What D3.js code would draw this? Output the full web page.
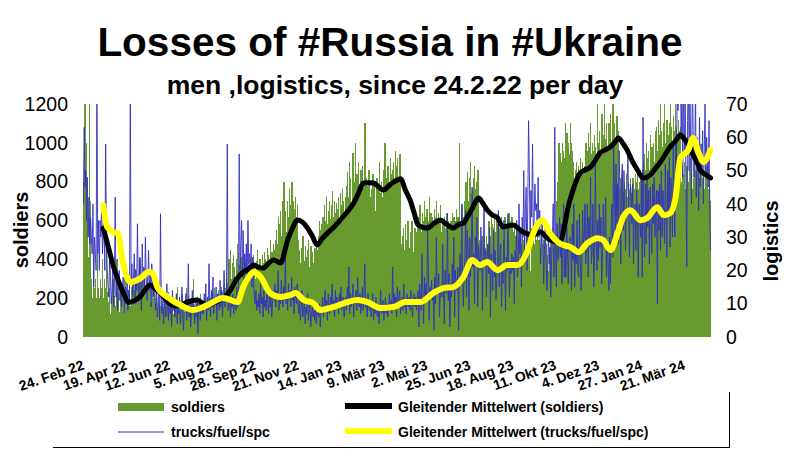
<!DOCTYPE html>
<html><head><meta charset="utf-8">
<script src="https://cdn.jsdelivr.net/npm/d3@7"></script>
<style>
body{margin:0;background:#fff}
svg{display:block}
text{font-family:"Liberation Sans",Arial,sans-serif;fill:#000}
</style>
</head><body>
<svg id="chart" width="790" height="471"></svg>
<script>
// ---------- DATA ----------
const titleText = "Losses of #Russia in #Ukraine";
const subtitleText = "men ,logistics, since 24.2.22 per day";
const leftAxisTitle = "soldiers";
const rightAxisTitle = "logistics";
const seriesNames = ["soldiers","trucks/fuel/spc","Gleitender Mittelwert (soldiers)","Gleitender Mittelwert (trucks/fuel/spc)"];

// x tick labels, one every 54 days from 24 Feb 2022
const xTickLabels = ["24. Feb 22","19. Apr 22","12. Jun 22","5. Aug 22","28. Sep 22","21. Nov 22","14. Jan 23","9. Mär 23","2. Mai 23","25. Jun 23","18. Aug 23","11. Okt 23","4. Dez 23","27. Jan 24","21. Mär 24"];
const xTickStepDays = 54;
const leftTicks = [0,200,400,600,800,1000,1200];
const rightTicks = [0,10,20,30,40,50,60,70];

// daily soldiers (day 0 = 24 Feb 2022)
const soldiers = [
800,2000,1500,700,1000,800,410,3290,500,700,
300,200,400,250,150,300,200,450,200,250,
200,300,150,250,400,200,300,250,200,500,
230,150,180,250,120,200,170,300,140,210,
160,190,400,150,220,130,180,240,160,200,
120,170,350,140,190,210,150,180,230,160,
200,260,180,300,240,350,210,280,190,320,
250,400,220,280,300,180,260,350,230,270,
310,200,240,290,180,260,220,300,200,240,
170,150,200,130,180,120,160,140,210,110,
150,130,170,190,120,160,140,230,150,170,
130,180,150,120,200,160,140,170,260,150,
160,200,140,180,220,150,170,130,190,250,
170,140,210,160,180,200,130,170,300,160,
150,190,170,140,200,180,160,220,150,170,
150,180,140,200,160,170,190,150,210,180,
200,160,230,190,170,250,180,200,220,190,
240,210,180,260,200,230,190,280,210,250,
300,280,350,400,320,450,300,380,340,420,
360,300,400,350,480,330,370,300,410,350,
380,320,430,360,300,400,350,390,330,370,
400,350,380,320,420,360,300,390,340,450,
370,330,400,360,310,420,380,350,440,400,
390,460,350,420,380,500,410,440,370,480,
450,500,420,550,480,620,500,580,650,520,
700,560,800,600,650,540,700,620,580,760,
680,600,800,640,700,560,660,720,620,680,
500,450,420,380,460,400,520,440,390,470,
410,380,450,500,360,430,470,400,440,380,
420,460,400,500,450,520,480,600,550,580,
560,620,500,680,600,540,720,580,650,700,
610,560,680,750,620,580,700,640,690,600,
660,720,580,740,680,620,760,700,650,720,
700,780,850,720,900,760,820,680,880,950,
740,800,1000,760,840,700,900,780,820,860,
720,880,800,760,1100,740,820,780,700,860,
800,720,760,680,840,700,780,650,740,820,
700,760,900,680,740,800,720,860,780,1000,
760,820,740,880,800,760,920,840,780,860,
900,820,960,840,880,920,800,860,940,880,
480,520,560,450,420,580,500,440,600,520,
460,540,480,600,500,440,520,560,480,540,
560,620,500,680,580,540,640,600,520,700,
620,580,660,540,600,720,560,640,580,620,
600,660,540,620,700,580,640,600,560,680,
540,600,520,580,620,500,560,640,540,600,
580,520,600,560,640,580,620,540,600,660,
560,620,580,1000,600,640,560,680,620,700,
720,800,760,850,700,820,780,900,740,760,
820,700,880,760,800,740,860,720,500,460,
420,520,440,480,500,460,420,520,480,540,
600,560,520,640,580,500,560,620,540,600,
520,580,640,560,600,540,620,580,500,560,
620,540,580,600,520,640,560,600,580,620,
540,500,580,460,520,480,560,500,440,540,
520,480,560,420,500,540,460,580,500,520,
480,540,340,500,560,460,520,480,540,500,
480,520,440,500,460,420,520,480,440,500,
460,520,480,420,300,340,460,500,440,520,
480,460,500,440,480,700,800,900,1000,880,
950,900,1000,880,960,920,1100,980,1050,900,
1000,940,1100,880,1000,960,900,820,780,860,
900,800,760,880,840,920,860,780,900,840,
880,940,1000,900,960,1050,920,980,1100,940,
1000,880,960,1040,980,920,1250,1000,960,1060,
940,1000,1150,980,1040,1300,960,1020,1100,980,
1040,1100,1000,1150,980,1060,1250,1020,1100,1000,
1080,1140,1000,1060,760,820,700,780,860,740,
800,680,760,840,720,800,760,680,820,740,
780,820,700,760,840,800,720,880,760,800,
740,820,780,860,760,900,940,860,1000,880,
920,960,860,1040,900,980,940,1000,900,1060,
1000,1080,960,1120,1040,1000,1250,1060,980,1100,
1040,1200,1000,1080,1120,1040,960,1100,1260,1020,
1080,1000,1140,1060,1000,1300,1080,1040,1120,1060,
1000,1080,800,860,780,840,900,760,820,880,
740,800,860,920,780,840,760,820,900,780,
860,800,740,880,820,760,900,840,780,820,
860,760,800,880,820,900,760,840,700,700
];

// daily trucks / fuel tanks / special equipment
const trucks = [
40,63,45,50,35,48,30,42,28,36,
30,25,40,15,30,25,20,95,25,35,
20,35,30,40,25,30,35,20,58,30,
20,15,12,25,18,10,14,22,9,16,
42,12,18,8,14,20,11,16,9,13,
18,7,12,15,10,19,8,14,11,75,
16,22,12,18,25,10,20,14,34,17,
12,24,19,8,28,15,21,13,30,18,
11,16,26,14,20,9,22,17,12,19,
12,8,15,6,10,14,5,37,9,7,
11,4,13,8,6,16,9,5,12,7,
10,3,14,8,11,6,9,13,4,10,
7,12,4,9,15,6,2,10,8,13,
5,9,22,6,11,3,8,14,7,10,
4,9,6,12,1,8,11,5,9,7,
10,7,13,9,16,5,12,8,22,11,
6,14,9,18,7,12,10,15,5,13,
11,8,17,9,14,6,12,20,9,11,
12,58,8,10,14,6,11,9,13,7,
10,12,8,15,9,11,55,20,28,35,
18,32,15,25,20,28,16,35,22,25,
20,28,15,24,18,12,10,14,8,11,
9,13,7,16,10,12,6,14,9,11,
8,15,10,7,13,9,12,6,11,14,
11,16,9,14,12,20,8,13,10,17,
12,9,15,11,24,10,13,8,16,12,
14,9,18,11,13,7,15,12,10,16,
10,7,12,5,9,14,6,8,11,4,
9,7,13,5,8,10,3,7,9,6,
8,5,11,4,7,9,6,10,3,8,
9,12,6,10,14,8,11,5,13,9,
7,12,10,16,8,11,6,14,9,12,
10,7,13,9,15,8,11,12,6,10,
12,8,15,10,21,7,13,9,11,16,
6,12,10,14,8,18,11,9,13,7,
10,15,8,12,22,9,11,6,13,10,
8,11,6,9,13,5,10,7,12,8,
6,10,4,9,14,7,8,11,5,9,
12,7,10,6,9,13,8,11,7,21,
10,13,8,12,6,15,9,11,14,7,
10,12,8,16,9,11,7,13,10,9,
12,8,14,10,6,11,13,9,12,8,
11,14,3,16,12,8,25,13,4,18,
12,16,11,34,20,5,15,13,17,11,
14,2,18,10,30,13,15,19,6,14,
15,12,28,14,4,20,16,13,37,11,
19,3,16,12,22,15,30,6,20,16,
14,21,2,19,25,16,40,18,9,20,
24,38,12,32,26,8,30,18,25,45,
21,25,10,30,22,36,9,28,24,20,
33,27,8,25,40,21,26,12,24,28,
19,33,6,25,20,14,32,18,26,11,
17,24,38,15,23,28,9,22,16,35,
21,8,24,20,37,22,12,23,19,25,
20,24,10,26,22,35,18,23,40,25,
32,15,36,30,50,24,38,45,20,40,
65,50,28,44,36,58,30,35,46,38,
40,30,48,30,38,22,28,35,30,16,
26,34,24,14,18,32,22,27,12,24,
30,40,18,63,25,15,34,23,26,36,
24,34,16,28,40,18,26,18,36,25,
16,28,30,30,14,34,23,40,15,26,
22,35,20,18,37,24,14,21,38,27,
30,40,22,28,40,18,36,27,48,22,
26,40,15,24,52,30,20,35,23,40,
27,36,16,25,40,28,30,42,18,29,
22,14,30,16,35,40,24,58,44,32,
52,34,46,28,56,42,22,48,52,32,
50,38,26,41,45,56,35,24,46,44,
34,46,22,36,40,26,44,38,18,40,
36,30,48,18,66,35,24,46,28,48,
33,44,22,45,36,25,46,34,48,30,
40,44,10,44,32,46,26,50,30,44,
40,28,52,38,24,50,36,54,27,48,
44,30,58,42,30,60,52,75,68,90,
85,100,60,75,48,80,55,70,45,21,
65,90,50,72,58,40,85,62,48,55,
75,42,60,52,38,66,45,58,50,62,
40,55,70,48,60,52,45,65,36,26
];

// moving averages: [day, value]
const soldiersMA = [
[25,561],[31,470],[38,360],[44,290],[50,230],[57,178],[63,185],[72,210],[78,245],[84,268],[90,250],[97,227],[103,195],[109,170],[116,160],[122,165],[131,180],[143,190],[150,175],[156,165],[164,175],[172,190],[179,210],[185,242],[193,300],[201,335],[208,350],[214,371],[220,360],[226,355],[233,380],[239,397],[248,381],[257,500],[263,560],[269,602],[276,590],[282,561],[288,520],[294,474],[300,505],[307,535],[315,565],[323,602],[331,640],[340,690],[346,740],[352,793],[358,795],[365,793],[371,775],[377,757],[386,785],[395,808],[399,815],[405,757],[411,705],[416,640],[421,577],[427,565],[433,561],[441,585],[449,602],[457,580],[465,561],[472,580],[478,587],[484,625],[490,670],[497,716],[503,685],[508,654],[514,630],[521,613],[528,566],[534,572],[541,577],[547,560],[553,541],[560,530],[566,525],[575,541],[581,520],[587,500],[594,490],[600,495],[606,587],[609,654],[616,757],[625,845],[631,860],[638,876],[644,910],[650,948],[657,965],[663,979],[668,1000],[673,1025],[679,995],[684,963],[690,910],[697,860],[704,819],[713,834],[720,870],[726,901],[732,940],[738,979],[745,1010],[751,1040],[756,1020],[760,999],[767,937],[773,890],[776,860],[783,835],[789,819]
];
const trucksMA = [
[25,39.6],[30,33],[38,31.5],[43,31.2],[50,22.2],[59,16.5],[72,17.7],[82,19.5],[87,19.2],[93,15.0],[106,12.0],[122,9.6],[138,8.1],[156,9.6],[176,11.7],[194,10.5],[201,15.0],[208,18.0],[214,19.5],[223,18.0],[235,13.2],[248,12.0],[260,12.6],[267,13.2],[277,11.1],[289,10.2],[298,8.1],[314,9.0],[332,10.5],[345,11.1],[357,10.5],[374,8.7],[390,9.0],[405,10.5],[424,10.5],[440,13.2],[453,14.7],[465,15.0],[478,18.0],[489,23.1],[499,21.6],[508,22.5],[521,20.1],[533,21.6],[546,21.6],[558,25.5],[566,31.2],[577,35.1],[587,31.2],[600,28.0],[613,27.0],[623,25.5],[634,28.2],[647,29.7],[654,29.1],[663,26.1],[672,31.2],[679,36.0],[688,38.1],[701,35.1],[709,35.7],[722,39.0],[730,36.6],[738,37.2],[745,42.0],[751,53.8],[761,56.2],[767,59.8],[774,55.3],[780,52.6],[789,56.2]
];

// ---------- DRAWING ----------
const svg = d3.select("#chart");
const W = 790, H = 471;
const plot = {left: 83, right: 711, top: 104, bottom: 337};
const COL = {green: "#679a2f", blue: "#3030c0", black: "#000", yellow: "#ffff00"};

const nDays = soldiers.length;
const x = d3.scaleLinear().domain([0, nDays]).range([plot.left, plot.right]);
const yL = d3.scaleLinear().domain([0, 1200]).range([plot.bottom, plot.top]);
const yR = d3.scaleLinear().domain([0, 70]).range([plot.bottom, plot.top]);

svg.append("rect").attr("width", W).attr("height", H).attr("fill", "#fff");

svg.append("defs").append("clipPath").attr("id", "clip")
  .append("rect").attr("x", plot.left).attr("y", plot.top)
  .attr("width", plot.right - plot.left + 2).attr("height", plot.bottom - plot.top);

const g = svg.append("g").attr("clip-path", "url(#clip)");

// soldier bars (pixel-snapped, slightly overlapping so that no seams appear)
g.append("g").attr("shape-rendering", "crispEdges").selectAll("rect").data(soldiers).join("rect")
  .attr("x", (d, i) => x(i))
  .attr("width", (d, i) => x(i + 1) - x(i) + 0.45)
  .attr("y", d => yL(Math.min(d, 1300)))
  .attr("height", d => yL(0) - yL(Math.min(d, 1300)))
  .attr("fill", COL.green);

// trucks line
g.append("path").datum(trucks)
  .attr("d", d3.line().x((d, i) => x(i + 0.5)).y(d => yR(Math.min(d, 80))))
  .attr("fill", "none").attr("stroke", COL.blue).attr("stroke-width", 0.9);

// moving averages
g.append("path").datum(soldiersMA)
  .attr("d", d3.line().curve(d3.curveMonotoneX).x(d => x(d[0] + 0.5)).y(d => yL(d[1])))
  .attr("fill", "none").attr("stroke", COL.black).attr("stroke-width", 5)
  .attr("stroke-linejoin", "round").attr("stroke-linecap", "round");
g.append("path").datum(trucksMA)
  .attr("d", d3.line().curve(d3.curveMonotoneX).x(d => x(d[0] + 0.5)).y(d => yR(d[1])))
  .attr("fill", "none").attr("stroke", COL.yellow).attr("stroke-width", 6)
  .attr("stroke-linejoin", "round").attr("stroke-linecap", "round");

// titles
svg.append("text").attr("x", 390).attr("y", 56).attr("text-anchor", "middle")
  .attr("font-size", 40.5).attr("font-weight", "bold").text(titleText);
svg.append("text").attr("x", 395).attr("y", 94).attr("text-anchor", "middle")
  .attr("font-size", 26.5).attr("font-weight", "bold").text(subtitleText);

// left axis
const fmt = d3.format("d");
const axL = svg.append("g").attr("transform", `translate(${plot.left - 15},0)`)
  .call(d3.axisLeft(yL).tickValues(leftTicks).tickFormat(fmt).tickSize(0).tickPadding(0));
axL.select(".domain").remove();
axL.selectAll("text").attr("font-size", 19.5).attr("font-family", "Liberation Sans, Arial, sans-serif").attr("fill", "#000");

// right axis
const axR = svg.append("g").attr("transform", `translate(${plot.right + 15},0)`)
  .call(d3.axisRight(yR).tickValues(rightTicks).tickFormat(fmt).tickSize(0).tickPadding(0));
axR.select(".domain").remove();
axR.selectAll("text").attr("font-size", 19.5).attr("font-family", "Liberation Sans, Arial, sans-serif").attr("fill", "#000");

// axis titles
svg.append("text").attr("transform", "translate(28,230) rotate(-90)").attr("text-anchor", "middle")
  .attr("font-size", 20).attr("font-weight", "bold").text(leftAxisTitle);
svg.append("text").attr("transform", "translate(778,241) rotate(-90)").attr("text-anchor", "middle")
  .attr("font-size", 20).attr("font-weight", "bold").text(rightAxisTitle);

// x tick labels
svg.append("g").selectAll("text").data(xTickLabels).join("text")
  .attr("transform", (d, i) => `translate(${x(i * xTickStepDays) + 2},369) rotate(-19)`)
  .attr("text-anchor", "end").attr("font-size", 14).attr("font-weight", "bold")
  .text(d => d);

// legend
const lg = svg.append("g");
lg.append("line").attr("x1", 53).attr("x2", 729).attr("y1", 447.5).attr("y2", 447.5).attr("stroke", "#000").attr("stroke-width", 1);
lg.append("line").attr("x1", 729.5).attr("x2", 729.5).attr("y1", 392).attr("y2", 448).attr("stroke", "#000").attr("stroke-width", 1);
lg.append("rect").attr("x", 118).attr("y", 403).attr("width", 46).attr("height", 8).attr("fill", COL.green);
lg.append("line").attr("x1", 118).attr("x2", 164).attr("y1", 432).attr("y2", 432).attr("stroke", COL.blue).attr("stroke-width", 1);
lg.append("rect").attr("x", 345).attr("y", 403).attr("width", 47).attr("height", 6).attr("fill", COL.black);
lg.append("rect").attr("x", 345).attr("y", 428).attr("width", 47).attr("height", 6).attr("fill", COL.yellow);
const legPos = [[171, 412], [171, 437], [398, 412], [398, 437]];
lg.selectAll("text.leg").data(seriesNames).join("text").attr("class", "leg")
  .attr("x", (d, i) => legPos[i][0]).attr("y", (d, i) => legPos[i][1])
  .attr("font-size", 14).attr("font-weight", "bold").text(d => d);
</script>
</body></html>
